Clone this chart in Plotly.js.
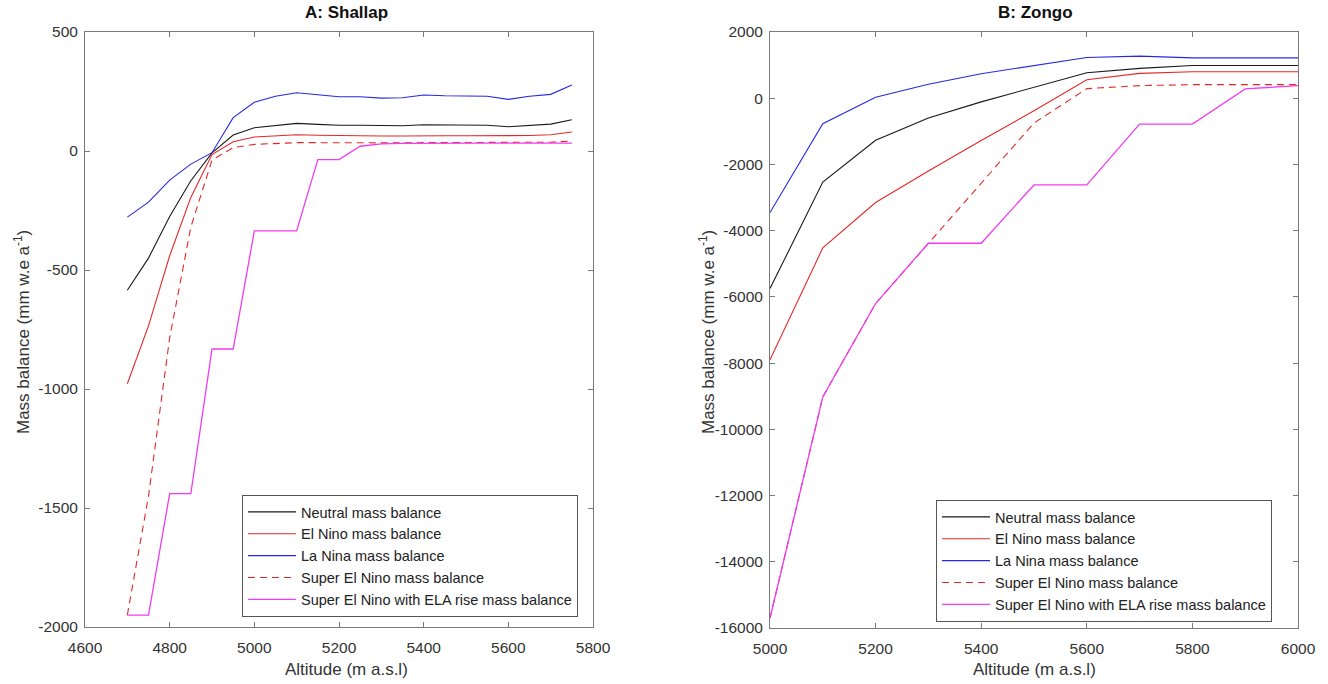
<!DOCTYPE html>
<html>
<head>
<meta charset="utf-8">
<script src="https://cdn.plot.ly/plotly-3.0.1.min.js"></script>
<style>html,body{margin:0;padding:0;background:#fff;}#chart{width:1328px;height:684px;}</style>
</head>
<body>
<div id="chart"></div>
<script>
// ---------- Data: A (Shallap) ----------
const altShallap = [4700,4750,4800,4850,4900,4950,5000,5050,5100,5150,5200,5250,5300,5350,5400,5450,5500,5550,5600,5650,5700,5750];
const neutralShallap = [-585,-450,-275,-125,-8,67,98,108,116,112,108,108,106,106,110,109,108,108,102,107,113,131];
const elNinoShallap  = [-978,-735,-440,-195,-15,39,59,65,68,66,64,64,63,63,65,64,64,64,62,65,68,80];
const laNinaShallap  = [-278,-215,-122,-55,-7,140,205,230,245,237,228,228,222,224,235,232,230,230,217,230,238,277];
const superShallap   = [-1950,-1450,-785,-320,-38,14,28,32,35,35,34,34,34,34,35,35,35,35,35,36,37,42];
const superElaShallap= [-1950,-1950,-1440,-1440,-832,-832,-336,-336,-336,-36,-36,20,30,32,33,33,33,33,33,33,33,33];
const shallapXTicks = [4600,4800,5000,5200,5400,5600,5800];
const shallapYTicks = [-2000,-1500,-1000,-500,0,500];

// ---------- Data: B (Zongo) ----------
const altZongo = [5000,5100,5200,5300,5400,5500,5600,5700,5800,5900,6000];
const neutralZongo  = [-5750,-2530,-1270,-600,-110,330,770,900,990,990,990];
const elNinoZongo   = [-7900,-4520,-3150,-2200,-1280,-380,560,750,800,800,800];
const laNinaZongo   = [-3450,-770,30,420,740,980,1230,1270,1220,1220,1220];
const superZongo    = [-15700,-9020,-6200,-4380,-2580,-750,290,380,410,410,410];
const superElaZongo = [-15700,-9020,-6200,-4380,-4380,-2620,-2620,-780,-780,280,380];
const zongoXTicks = [5000,5200,5400,5600,5800,6000];
const zongoYTicks = [-16000,-14000,-12000,-10000,-8000,-6000,-4000,-2000,0,2000];

const seriesNames = ["Neutral mass balance","El Nino mass balance","La Nina mass balance","Super El Nino mass balance","Super El Nino with ELA rise mass balance"];
const panelTitles = ["A: Shallap","B: Zongo"];
const xTitle = "Altitude (m a.s.l)";
const yTitle = "Mass balance (mm w.e a<sup>-1</sup>)";

const styles = [
  {color:"rgb(25,25,25)", width:1.1, dash:"solid"},
  {color:"rgb(228,40,40)", width:1.1, dash:"solid"},
  {color:"rgb(40,40,228)", width:1.1, dash:"solid"},
  {color:"rgb(228,40,40)", width:1.1, dash:"7px,5px"},
  {color:"rgb(240,60,240)", width:1.3, dash:"solid"}
];

const shallapSets = [neutralShallap, elNinoShallap, laNinaShallap, superShallap, superElaShallap];
const zongoSets = [neutralZongo, elNinoZongo, laNinaZongo, superZongo, superElaZongo];

const traces = [];
shallapSets.forEach((ys,i)=>traces.push({x:altShallap,y:ys,name:seriesNames[i],type:"scatter",mode:"lines",
  line:Object.assign({},styles[i]),xaxis:"x",yaxis:"y",legend:"legend",hoverinfo:"skip"}));
zongoSets.forEach((ys,i)=>traces.push({x:altZongo,y:ys,name:seriesNames[i],type:"scatter",mode:"lines",
  line:Object.assign({},styles[i]),xaxis:"x2",yaxis:"y2",legend:"legend2",hoverinfo:"skip"}));

const W=1328,H=684;
const font = "Liberation Sans, Arial, sans-serif";
const lbl = v => String(v);
const axBase = {
  showline:true, linecolor:"#7a7a7a", linewidth:1, mirror:"ticks",
  ticks:"inside", ticklen:5, tickcolor:"#7a7a7a", tickwidth:1,
  showgrid:false, zeroline:false, automargin:false, tickmode:"array",
  tickfont:{family:font,size:15.5,color:"#333"}
};
const yDomL=[(H-627)/H,(H-32)/H];
const yDomR=[(H-628)/H,(H-32)/H];
const legBase = {xanchor:"left",yanchor:"top",bgcolor:"#fff",bordercolor:"#555",borderwidth:1,
    font:{family:font,size:14.5,color:"#222"},itemwidth:48,tracegroupgap:0};

const layout = {
  width:W,height:H,
  margin:{l:0,r:0,t:0,b:0},
  paper_bgcolor:"#fff",plot_bgcolor:"#fff",
  font:{family:font,color:"#333"},
  showlegend:true,
  xaxis:Object.assign({},axBase,{domain:[85/W,593/W],range:[4600,5800],tickvals:shallapXTicks,ticktext:shallapXTicks.map(lbl),anchor:"y",ticklabelstandoff:6}),
  yaxis:Object.assign({},axBase,{domain:yDomL,range:[-2000,500],tickvals:shallapYTicks,ticktext:shallapYTicks.map(lbl),anchor:"x",ticklabelstandoff:3}),
  xaxis2:Object.assign({},axBase,{domain:[770/W,1298/W],range:[5000,6000],tickvals:zongoXTicks,ticktext:zongoXTicks.map(lbl),anchor:"y2",ticklabelstandoff:6}),
  yaxis2:Object.assign({},axBase,{domain:yDomR,range:[-16000,2000],tickvals:zongoYTicks,ticktext:zongoYTicks.map(lbl),anchor:"x2",ticklabelstandoff:3}),
  legend:Object.assign({},legBase,{x:242/W,y:1-495/H}),
  legend2:Object.assign({},legBase,{x:936/W,y:1-500/H}),
  annotations:[
    {text:"<b>"+panelTitles[0]+"</b>",xref:"paper",yref:"paper",x:346/W,y:1-12/H,xanchor:"center",yanchor:"middle",showarrow:false,font:{family:font,size:17,color:"#111"}},
    {text:"<b>"+panelTitles[1]+"</b>",xref:"paper",yref:"paper",x:1035/W,y:1-12/H,xanchor:"center",yanchor:"middle",showarrow:false,font:{family:font,size:17,color:"#111"}},
    {text:xTitle,xref:"paper",yref:"paper",x:347/W,y:1-669/H,xanchor:"center",yanchor:"middle",showarrow:false,font:{family:font,size:17,color:"#333"}},
    {text:xTitle,xref:"paper",yref:"paper",x:1034/W,y:1-669/H,xanchor:"center",yanchor:"middle",showarrow:false,font:{family:font,size:17,color:"#333"}},
    {text:yTitle,xref:"paper",yref:"paper",x:22/W,y:1-332/H,xanchor:"center",yanchor:"middle",textangle:-90,showarrow:false,font:{family:font,size:17,color:"#333"}},
    {text:yTitle,xref:"paper",yref:"paper",x:707/W,y:1-332/H,xanchor:"center",yanchor:"middle",textangle:-90,showarrow:false,font:{family:font,size:17,color:"#333"}}
  ]
};

Plotly.newPlot("chart",traces,layout,{staticPlot:true,displayModeBar:false});
</script>
</body>
</html>
